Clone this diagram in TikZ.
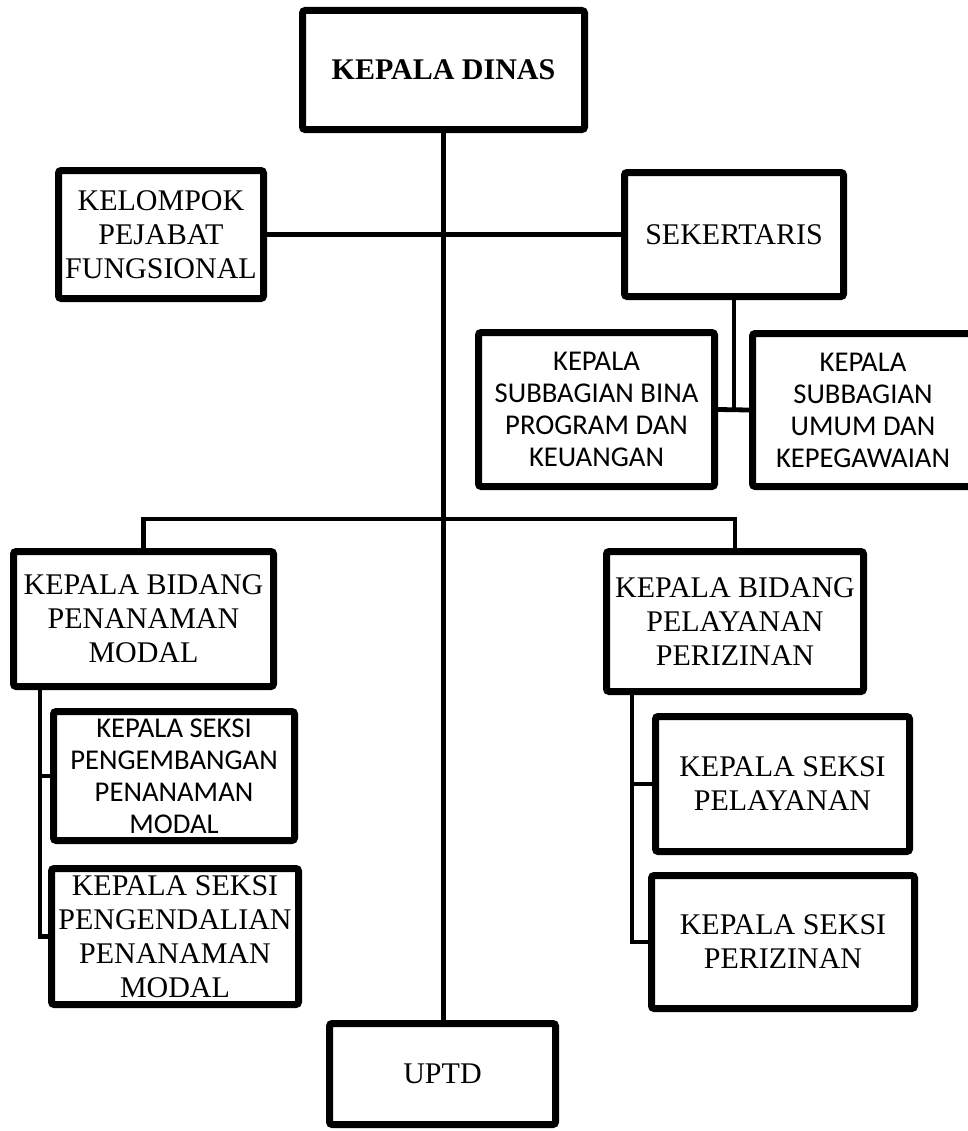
\documentclass[tikz,border=0pt]{standalone}
\usepackage{fontspec}
\setmainfont{Liberation Serif}
\newfontfamily\calibfont{Carlito}
\usetikzlibrary{shadows}

\begin{document}
\begin{tikzpicture}[x=0.75pt, y=-0.75pt,
  orgbox/.style={draw, line width=5.25pt, rounded corners=2pt, fill=white,
    align=center, inner sep=0pt,
    font=\fontsize{22.5}{25.5}\selectfont,
    drop shadow={opacity=0.3, shadow xshift=1.2pt, shadow yshift=-1.2pt}},
  calbox/.style={orgbox, font=\calibfont\fontsize{21.5}{24}\selectfont},
  link/.style={line width=3.6pt}]
  \useasboundingbox (0,0) rectangle (967,1131);
  % ---------- 1. kepala dinas, staf ----------
  \node[orgbox, minimum width=211.5pt, minimum height=89.25pt] (dinas) at (443.5,70)
    {\bfseries KEPALA DINAS};
  \node[orgbox, minimum width=153.75pt, minimum height=96pt] (kelompok) at (161,234.5)
    {KELOMPOK\\PEJABAT\\FUNGSIONAL};
  \node[orgbox, minimum width=164.25pt, minimum height=93pt] (sekertaris) at (734,234.5)
    {SEKERTARIS};
  \node[calbox, minimum width=177pt, minimum height=115.5pt] (subbina) at (596.5,409.5)
    {KEPALA\\SUBBAGIAN BINA\\PROGRAM DAN\\KEUANGAN};
  \node[calbox, minimum width=165.75pt, minimum height=114.75pt] (subumum) at (863,410)
    {KEPALA\\SUBBAGIAN\\UMUM DAN\\KEPEGAWAIAN};
  % ---------- 2. bidang ----------
  \node[orgbox, minimum width=195pt, minimum height=101.25pt] (bidangpm) at (143.5,619)
    {KEPALA BIDANG\\PENANAMAN\\MODAL};
  \node[orgbox, minimum width=192.75pt, minimum height=105pt] (bidangpp) at (735,621.5)
    {KEPALA BIDANG\\PELAYANAN\\PERIZINAN};
  % ---------- 3. seksi ----------
  \node[calbox, minimum width=180.75pt, minimum height=96.75pt] (seksipmdev) at (174,776)
    {KEPALA SEKSI\\PENGEMBANGAN\\PENANAMAN\\MODAL};
  \node[orgbox, minimum width=185.25pt, minimum height=102pt] (seksipmctl) at (175,936.5)
    {KEPALA SEKSI\\PENGENDALIAN\\PENANAMAN\\MODAL};
  \node[orgbox, minimum width=190.5pt, minimum height=101.25pt] (seksilyn) at (782.5,784)
    {KEPALA SEKSI\\PELAYANAN};
  \node[orgbox, minimum width=197.25pt, minimum height=99.75pt] (seksiizin) at (783,942)
    {KEPALA SEKSI\\PERIZINAN};
  % ---------- 4. uptd ----------
  \node[orgbox, minimum width=169.5pt, minimum height=75.75pt] (uptd) at (442.5,1074)
    {UPTD};
  % ---------- connectors ----------
  \coordinate (bus) at (443.5,519);
  \coordinate (pmrail) at (40,619);
  \coordinate (pprail) at (632,621.5);
  \draw[link] (dinas.south) -- (dinas.south |- uptd.north);
  \draw[link] (kelompok.east) -- (kelompok.east -| sekertaris.west);
  \draw[link] (sekertaris.south) -- (sekertaris.south |- subbina.east);
  \draw[link] (subbina.east) -- (subumum.west);
  \draw[link] (bidangpm.north) |- (bus) -| (bidangpp.north);
  \draw[link] (bidangpm.south -| pmrail) |- (seksipmctl.west);
  \draw[link] (pmrail |- seksipmdev.west) -- (seksipmdev.west);
  \draw[link] (bidangpp.south -| pprail) |- (seksiizin.west);
  \draw[link] (pprail |- seksilyn.west) -- (seksilyn.west);
\end{tikzpicture}
\end{document}
